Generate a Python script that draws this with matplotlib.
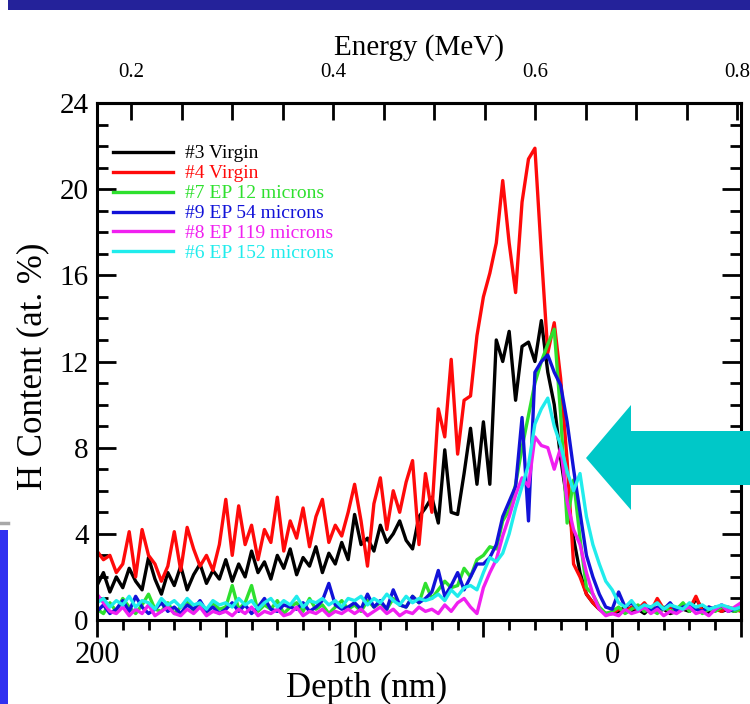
import matplotlib
matplotlib.use('Agg')
import matplotlib.pyplot as plt
import numpy as np
from matplotlib.patches import Polygon, Rectangle
from matplotlib.lines import Line2D
from matplotlib.ticker import MultipleLocator, FixedLocator, FixedFormatter

plt.rcParams['font.family'] = ['Liberation Serif', 'DejaVu Serif']

# depth grid (nm), 200 -> -50 in 2.5 nm steps
depth = np.arange(200, -50.1, -2.5)

labels = ['#3 Virgin', '#4 Virgin', '#7 EP 12 microns', '#9 EP 54 microns',
          '#8 EP 119 microns', '#6 EP 152 microns']
colors = ['#000000', '#ff0a0a', '#2ee02e', '#1212d8', '#f020f0', '#20ecec']

virgin3 = [
    1.6, 2.2, 1.3, 2.0, 1.5, 2.4, 1.8, 1.4, 2.9, 1.9, 1.2, 2.2, 1.6, 2.5, 1.4, 2.1, 2.6, 1.7, 2.3, 1.9,
    2.8, 1.8, 2.6, 2.0, 3.2, 2.2, 2.7, 1.9, 3.0, 2.4, 3.3, 2.1, 2.9, 2.5, 3.4, 2.2, 3.1, 2.6, 3.6, 2.8,
    4.9, 3.5, 3.8, 3.2, 4.4, 3.6, 4.0, 4.6, 3.7, 3.3, 4.8, 5.2,
    5.7, 4.5, 7.9, 5.0, 4.9, 6.8, 8.9, 6.3,
    9.2, 6.3, 13.0, 12.0, 13.4, 10.2, 12.7, 12.9, 12.0, 13.9, 11.5, 10.0,
    7.5, 5.5, 3.8, 2.2, 1.2, 0.8, 0.5, 0.3,
    0.3, 0.4, 0.6, 0.4, 0.5, 0.3, 0.6, 0.4, 0.5, 0.3, 0.4, 0.5, 0.4, 1.0, 0.5, 0.3, 0.6, 0.4, 0.5, 0.4, 0.5]

virgin4 = [
    3.2, 2.8, 3.0, 2.2, 2.6, 4.1, 2.0, 4.2, 3.0, 2.6, 1.8, 2.5, 4.1, 2.3, 4.3, 3.3, 2.5, 3.0, 2.3, 3.5,
    5.6, 3.0, 5.3, 3.5, 4.4, 2.8, 4.2, 3.6, 5.7, 3.2, 4.6, 3.8, 5.2, 3.4, 4.8, 5.6, 3.6, 4.4, 3.9, 5.0,
    6.3, 4.6, 2.5, 5.4, 6.6, 4.2, 6.0, 5.0, 6.4, 7.4, 3.5, 6.8,
    5.0, 9.8, 8.5, 12.1, 7.7, 10.2, 10.4, 13.2,
    15.0, 16.1, 17.5, 20.4, 17.5, 15.2, 19.4, 21.4, 21.9, 17.0, 12.4, 13.8,
    11.2, 7.4, 2.6, 2.0, 1.2, 0.8, 0.5, 0.3,
    0.3, 0.5, 0.4, 0.6, 0.5, 0.8, 0.4, 1.0, 0.5, 0.6, 0.4, 0.7, 0.5, 1.1, 0.4, 0.6, 0.5, 0.4, 0.6, 0.5, 0.4]

ep12 = [
    0.5, 0.3, 0.8, 0.4, 1.0, 0.6, 0.3, 0.7, 1.2, 0.5, 0.4, 0.8, 0.3, 0.6, 0.9, 0.4, 0.7, 0.3, 0.8, 0.5,
    0.6, 1.6, 0.5, 0.8, 1.6, 0.4, 0.7, 0.5, 0.9, 0.3, 0.6, 0.8, 0.4, 1.0, 0.5, 0.7, 0.3, 0.6, 0.9, 0.5,
    0.7, 0.4, 0.9, 0.6, 0.8, 0.5, 1.0, 0.7, 0.6, 1.1, 0.8, 1.7,
    1.0, 1.4, 1.8, 1.5, 1.6, 2.4, 2.0, 2.8,
    3.0, 3.4, 3.3, 4.6, 5.1, 6.3, 8.0, 9.5, 11.0, 12.0, 12.8, 13.5,
    9.5, 4.5, 6.5, 3.8, 1.5, 1.2, 0.6, 0.3,
    0.4, 0.6, 0.3, 0.5, 0.7, 0.4, 0.5, 0.3, 0.6, 0.4, 0.5, 0.8, 0.4, 0.6, 0.3, 0.5, 0.4, 0.6, 0.5, 0.4, 0.5]

ep54 = [
    0.4, 0.7, 0.3, 0.5, 0.9, 0.4, 1.1, 0.6, 0.3, 0.5, 0.8, 0.4, 0.6, 0.3, 0.7, 0.5, 0.9, 0.4, 0.6, 0.3,
    0.5, 0.8, 0.4, 0.7, 0.3, 0.6, 1.0, 0.5, 0.4, 0.7, 0.6, 0.5, 0.8, 0.4, 0.6, 0.9, 1.7, 0.7, 0.5, 0.6,
    0.8, 0.5, 1.2, 0.6, 0.9, 0.5, 1.4, 0.7, 0.6, 1.1, 0.8, 1.0,
    1.3, 2.3, 1.1, 1.6, 2.2, 1.4, 2.0, 2.6,
    2.6, 2.9, 3.5, 4.8, 5.5, 6.2, 9.4, 4.6, 11.5, 12.0, 12.3, 11.5,
    10.9, 9.2, 7.0, 5.0, 3.0, 2.0, 1.2, 0.6,
    0.5, 1.3, 0.6, 0.8, 0.5, 0.7, 0.4, 0.6, 0.5, 0.8, 0.4, 0.6, 0.7, 0.5, 0.4, 0.6, 0.5, 0.7, 0.4, 0.5, 0.6]

ep119 = [
    1.2, 0.8, 0.4, 0.3, 0.6, 0.2, 0.5, 0.3, 0.7, 0.2, 0.4, 0.6, 0.3, 0.2, 0.5, 0.3, 0.6, 0.2, 0.4, 0.3,
    0.4, 0.2, 0.5, 0.3, 0.6, 0.2, 0.4, 0.3, 0.5, 0.2, 0.3, 0.6, 0.2, 0.4, 0.3, 0.5, 0.2, 0.4, 0.3, 0.5,
    0.3, 0.5, 0.2, 0.4, 0.6, 0.3, 0.5, 0.2, 0.4, 0.3, 0.6, 0.4,
    0.5, 0.3, 0.7, 0.4, 0.8, 1.0, 0.6, 0.3,
    1.5, 2.2, 2.8, 3.9, 4.8, 5.8, 6.6, 6.2, 8.5, 8.1, 8.0, 7.0,
    8.0, 5.5, 4.2, 3.5, 2.2, 1.2, 0.5, 0.2,
    0.3, 0.2, 0.5, 0.3, 0.4, 0.6, 0.3, 0.5, 0.2, 0.4, 0.3, 0.5, 0.6, 0.3, 0.4, 0.2, 0.5, 0.7, 0.4, 0.6, 0.8]

ep152 = [
    0.8, 1.0, 0.6, 0.9, 0.7, 1.1, 0.6, 0.9, 0.8, 0.5, 1.0, 0.7, 0.9, 0.6, 1.0, 0.7, 0.8, 0.5, 0.9, 0.7,
    0.8, 0.6, 1.0, 0.7, 0.9, 0.5, 0.8, 1.0, 0.6, 0.9, 0.7, 1.1, 0.6, 0.9, 0.8, 1.0, 0.7, 0.9, 0.6, 1.0,
    0.9, 1.1, 0.7, 1.0, 0.8, 1.2, 0.9, 0.7, 1.1, 0.8, 1.0, 0.9,
    1.0, 1.2, 0.9, 1.4, 1.1, 1.5, 1.6, 1.4,
    2.2, 2.9, 2.7, 3.1, 4.0, 5.2, 6.2, 7.2, 9.1, 9.8, 10.3, 9.0,
    8.1, 6.9, 6.0, 6.8, 4.8, 3.5, 2.6, 1.8,
    1.4, 0.8, 0.6, 0.9, 0.5, 0.7, 0.6, 0.8, 0.5, 0.7, 0.6, 0.5, 0.8, 0.6, 0.7, 0.5, 0.6, 0.7, 0.6, 0.5, 0.6]

series = [virgin3, virgin4, ep12, ep54, ep119, ep152]

W, H = 750, 704
fig = plt.figure(figsize=(W / 100, H / 100), dpi=100)
fig.patch.set_facecolor('white')
ax = fig.add_axes([97 / W, 84 / H, 644 / W, 517 / H])

for vals, c, lab in zip(series, colors, labels):
    ax.plot(depth, vals, color=c, lw=2.4, label=lab)

ax.set_xlim(200, -50)
ax.set_ylim(0, 24)
ax.xaxis.set_major_locator(FixedLocator([200, 150, 100, 50, 0, -50]))
ax.xaxis.set_major_formatter(FixedFormatter(['200', '', '100', '', '0', '']))
ax.xaxis.set_minor_locator(MultipleLocator(10))
ax.yaxis.set_major_locator(MultipleLocator(4))
ax.yaxis.set_minor_locator(MultipleLocator(1))
ax.tick_params(axis='x', which='major', direction='out', length=12, width=2,
               labelsize=22, top=False, pad=3)
ax.tick_params(axis='x', which='minor', direction='out', length=7, width=2, top=False)
ax.tick_params(axis='y', which='major', direction='in', length=14, width=2,
               labelsize=21, left=True, right=True, pad=6)
ax.tick_params(axis='y', which='minor', direction='in', length=8, width=2,
               left=True, right=True)
for s in ax.spines.values():
    s.set_linewidth(2.2)

ax.set_xlabel('Depth (nm)', fontsize=25)
ax.xaxis.set_label_coords(0.418, -0.1)
ax.set_ylabel('H Content (at. %)', fontsize=25)
ax.yaxis.set_label_coords(-0.074, 0.49)


def d2e(d):
    return 0.676 - 0.00255 * np.asarray(d)


def e2d(e):
    return (0.676 - np.asarray(e)) / 0.00255


secax = ax.secondary_xaxis('top', functions=(d2e, e2d))
secax.xaxis.set_major_locator(FixedLocator([0.2, 0.4, 0.6, 0.8]))
secax.xaxis.set_major_formatter(FixedFormatter(['0.2', '0.4', '0.6', '0.8']))
secax.xaxis.set_minor_locator(MultipleLocator(0.05))
secax.tick_params(which='both', direction='in', length=12, width=2, labelsize=15, pad=15)
secax.set_xlabel('Energy (MeV)', fontsize=21, labelpad=6)
secax.spines['top'].set_linewidth(2.2)

leg = ax.legend(loc='upper left', bbox_to_anchor=(0.025, 0.919), frameon=False,
                fontsize=14, handlelength=3.1, handletextpad=0.6, labelspacing=0.12,
                borderpad=0, borderaxespad=0, labelcolor='linecolor')

# slide decorations
fig.patches.append(Rectangle((8 / W, 1 - 10 / H), 1, 10 / H, transform=fig.transFigure,
                             facecolor='#24229a', edgecolor='none', zorder=5))
fig.patches.append(Rectangle((0, 0), 8 / W, (H - 530) / H, transform=fig.transFigure,
                             facecolor='#3030f0', edgecolor='none', zorder=5))
fig.lines.append(Line2D([0, 8 / W], [1 - 523 / H, 1 - 523 / H], transform=fig.transFigure,
                        color='#a8a8a8', lw=2.5, zorder=5))
arrow_px = [(586, 458), (631, 405), (631, 431), (750, 431), (750, 485), (631, 485), (631, 510)]
fig.patches.append(Polygon([(x / W, 1 - y / H) for x, y in arrow_px], closed=True,
                           transform=fig.transFigure, facecolor='#00c8c8',
                           edgecolor='none', zorder=10))

fig.savefig('out.png', dpi=100, facecolor='white')
